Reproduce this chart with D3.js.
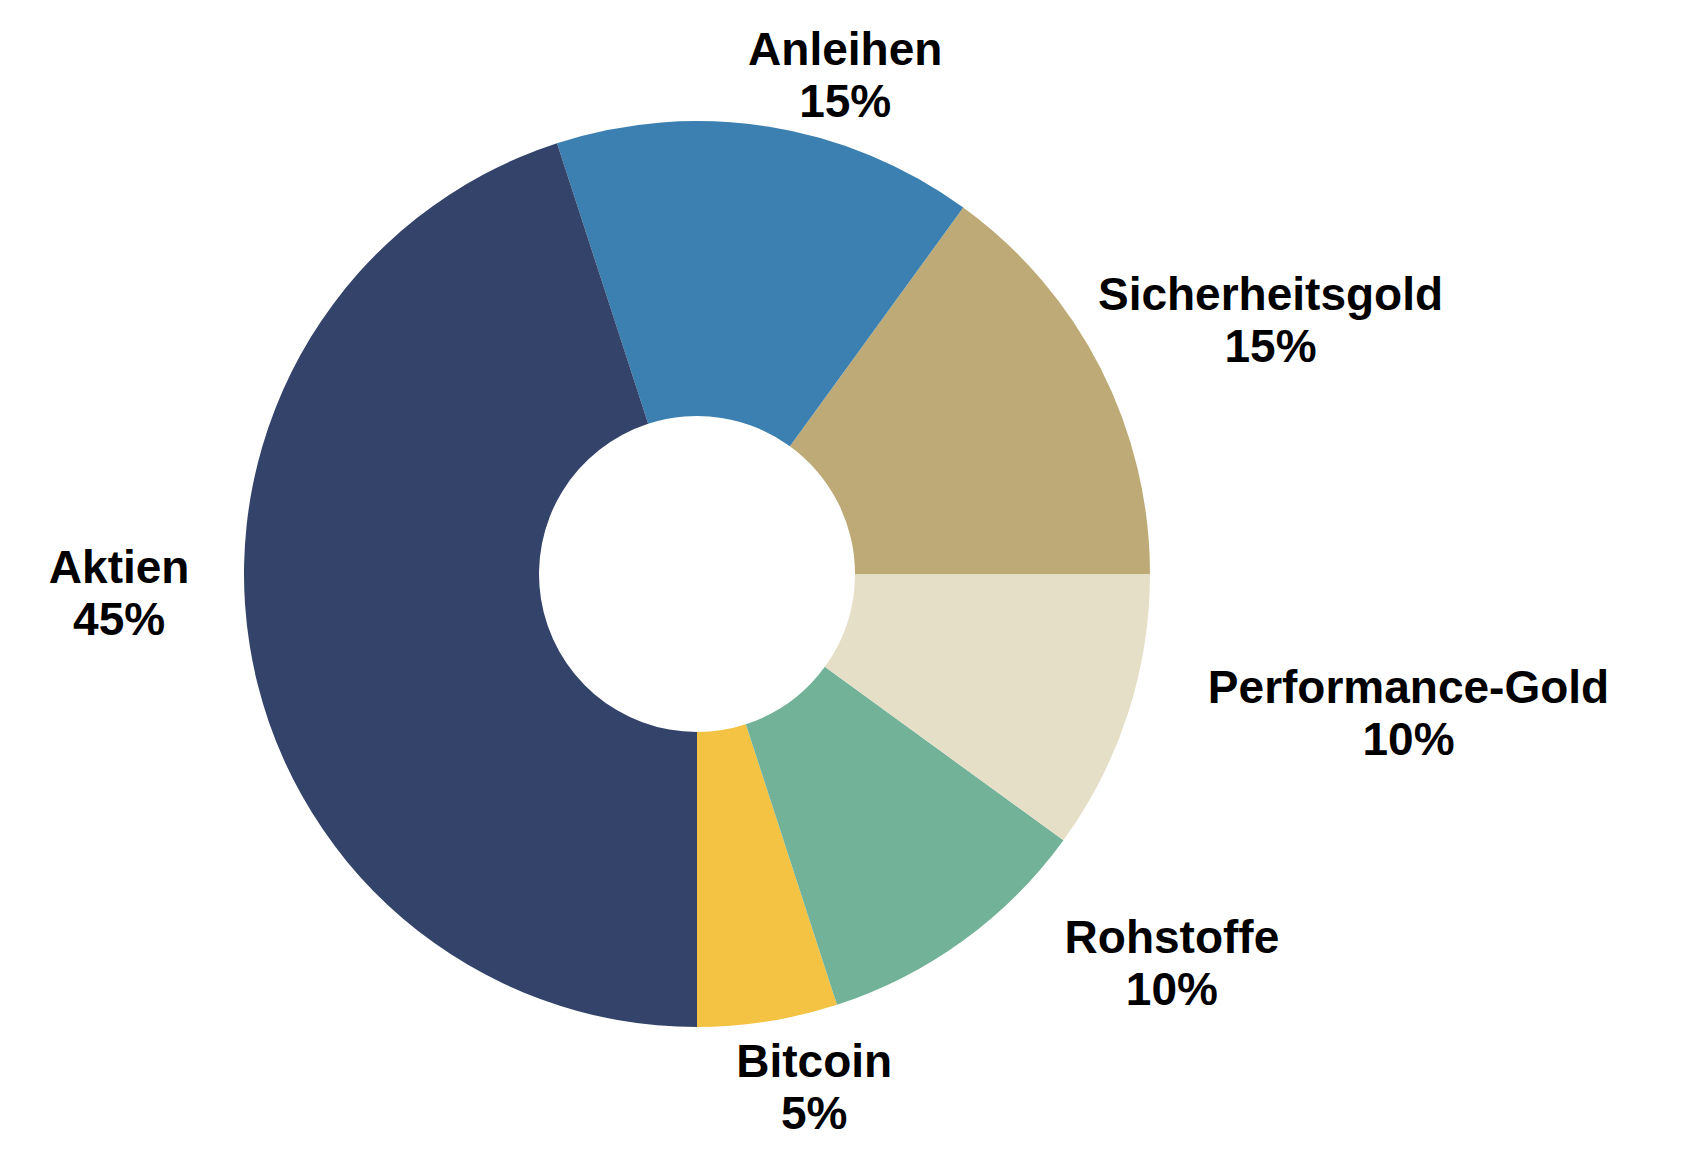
<!DOCTYPE html>
<html>
<head>
<meta charset="utf-8">
<script src="https://cdn.jsdelivr.net/npm/d3@7"></script>
<style>
  body { margin: 0; background: #fff; }
  svg { display: block; }
</style>
</head>
<body>
<svg id="donut" width="1682" height="1152"></svg>
<script>
// Anteile in Prozent, gegen den Uhrzeigersinn ab 3 Uhr
const categories = ["Sicherheitsgold", "Anleihen", "Aktien", "Bitcoin", "Rohstoffe", "Performance-Gold"];
const shares = [15, 15, 45, 5, 10, 10];
const colors = ["#BEAA76", "#3B80B0", "#33436A", "#F5C344", "#72B299", "#E6DFC8"];

// Verschiebung der Beschriftung gegenüber dem Bogenpunkt
const labelNudge = {
    "Sicherheitsgold": [128, -11],
    "Anleihen": [70, 11],
    "Aktien": [-84, -43],
    "Bitcoin": [39, 35],
    "Rohstoffe": [181, 0],
    "Performance-Gold": [236, 0]
};

document.addEventListener("DOMContentLoaded", function() {
    createDonutChart("#donut");
});

function createDonutChart(selector) {
    const svg = d3.select(selector);
    const cx = 697, cy = 574;
    const outer = 453, inner = 158, labelRadius = 500, lineGap = 52;

    const data = categories.map((c, i) => ({ name: c, value: shares[i] }));
    const color = d3.scaleOrdinal().domain(categories).range(colors);

    const pie = d3.pie()
        .sort(null)
        .value(d => d.value)
        .startAngle(Math.PI / 2)
        .endAngle(Math.PI / 2 - 2 * Math.PI);

    const arc = d3.arc().innerRadius(inner).outerRadius(outer);
    const labelArc = d3.arc().innerRadius(labelRadius).outerRadius(labelRadius);

    const g = svg.append("g").attr("transform", `translate(${cx},${cy})`);

    g.selectAll("path").data(pie(data)).enter().append("path")
        .attr("d", arc)
        .attr("fill", d => color(d.data.name));

    const labels = g.selectAll(".label").data(pie(data)).enter().append("text")
        .attr("class", "label")
        .attr("text-anchor", "middle")
        .style("font-family", "'Liberation Sans', Arial, sans-serif")
        .style("font-weight", "bold")
        .style("font-size", "46px")
        .style("fill", "#000")
        .attr("transform", d => {
            const [x, y] = labelArc.centroid(d);
            const n = labelNudge[d.data.name];
            return `translate(${x + n[0]},${y + n[1]})`;
        });

    labels.append("tspan")
        .attr("x", 0)
        .attr("y", -lineGap / 2)
        .text(d => d.data.name);

    labels.append("tspan")
        .attr("x", 0)
        .attr("y", lineGap / 2)
        .text(d => d.data.value + "%");
}
</script>
</body>
</html>
